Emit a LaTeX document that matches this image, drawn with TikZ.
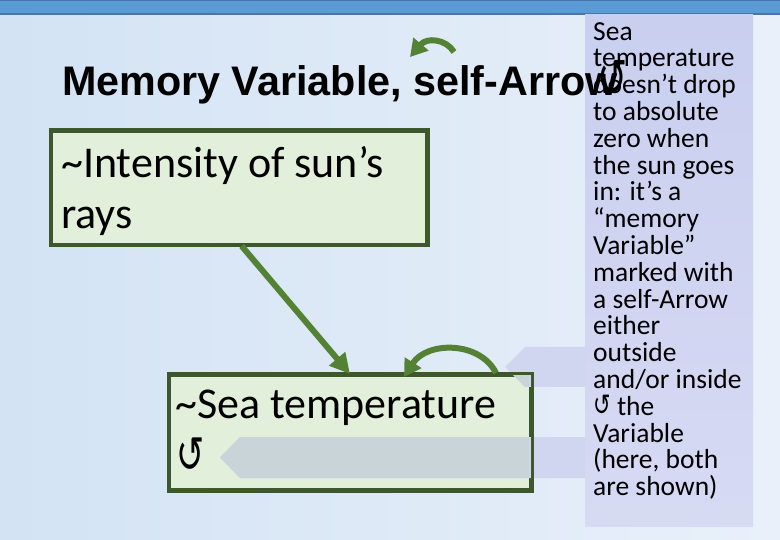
\documentclass[tikz,border=0pt]{standalone}
\usepackage{fontspec}
\setmainfont{Carlito}
\newfontfamily\titlefont{Liberation Sans}
\newfontfamily\symfont{DejaVu Sans}
\usetikzlibrary{arrows.meta,calc}
\newcommand\mytightlines{\lineskiplimit-40pt\relax}
\newcommand\myboxfont{\fontsize{44}{51}\selectfont\mytightlines}
\newcommand\mypanelfont{\fontsize{27.5}{26.8}\selectfont\mytightlines}
\definecolor{bgL}{RGB}{211,227,244}
\definecolor{bgR}{RGB}{233,240,250}
\definecolor{barblue}{RGB}{91,155,213}
\definecolor{bardark}{RGB}{70,118,170}
\definecolor{boxfill}{RGB}{226,239,218}
\definecolor{boxline}{RGB}{62,88,45}
\definecolor{garrowc}{RGB}{84,130,53}
\definecolor{panelT}{RGB}{201,207,239}
\definecolor{panelB}{RGB}{215,218,243}
\definecolor{lav}{RGB}{208,213,240}
\definecolor{lavgray}{RGB}{200,212,216}
\tikzset{
  vbox/.style={draw=boxline, line width=3pt, fill=boxfill, anchor=north west, inner sep=0pt},
  boxtext/.style={anchor=north west, align=left, inner sep=0pt, font=\myboxfont},
  gline/.style={draw=garrowc, line width=6pt, -{Triangle[length=20pt,width=20pt]}},
  gself/.style={draw=garrowc, line width=6pt, -{Triangle[length=17pt,width=19pt]}},
}
\begin{document}
\begin{tikzpicture}[x=1pt,y=-1pt]
\useasboundingbox (0,0) rectangle (780,540);
% background
\shade[left color=bgL, right color=bgR] (0,0) rectangle (780,540);
% top bar
\fill[barblue] (0,0) rectangle (780,15);
\fill[bardark] (0,0) rectangle (780,1.5);
\fill[bardark] (0,13.5) rectangle (780,15.5);
% side panel
\shade[top color=panelT, bottom color=panelB] (585,15) rectangle (753,526);
% boxes
\node[vbox, minimum width=375pt, minimum height=113pt] (b1) at (50,130) {};
\node[vbox, minimum width=361pt, minimum height=114pt] (b2) at (168,374) {};
% lavender callout arrows
\fill[lav] (505,367) -- (525,347) -- (585,347) -- (585,387) -- (525,387) -- cycle;
\fill[lav] (220,457.5) -- (240,437) -- (585,437) -- (585,478) -- (240,478) -- cycle;
\begin{scope}
  \clip (168,374) rectangle (529,488);
  \fill[lavgray] (505,367) -- (525,347) -- (585,347) -- (585,387) -- (525,387) -- cycle;
  \fill[lavgray] (220,457.5) -- (240,437) -- (585,437) -- (585,478) -- (240,478) -- cycle;
\end{scope}
\draw[boxline, line width=3pt] (b1.north west) rectangle (b1.south east);
\draw[boxline, line width=3pt] (b2.north west) rectangle (b2.south east);
% box texts
\node[boxtext] (t1) at (61,146) {\char"7E Intensity of sun’s\\rays};
\node[boxtext] (t2) at (175,390) {\char"7E Sea temperature};
\node[anchor=base west, inner sep=0pt] (s2) at (176,472) {\symfont\fontsize{51}{51}\selectfont\scalebox{0.66}[1]{↺}};
% main arrow
\draw[gline] ($(b1.south west)!0.507!(b1.south east)$) -- (b2.north);
% self arrows
\coordinate (ta) at (454,52);
\coordinate (tb) at (410,57);
\draw[gself] (ta) .. controls (446,39) and (427,37) .. (tb);
\coordinate (sa) at (496,373);
\coordinate (sb) at (404,377);
\draw[gself] (sa) .. controls (480,341) and (427,341) .. (sb);
% title
\node[anchor=base west, inner sep=0pt] (title) at (62,96) {\titlefont\bfseries\fontsize{41.3}{41.3}\selectfont Memory Variable, self-Arrow};
\node[anchor=base west, inner sep=0pt] (tsym) at (597,97) {\symfont\fontsize{53}{53}\selectfont\scalebox{0.68}[1]{↺}};
% panel text
\node[anchor=north west, align=left, inner sep=0pt, font=\mypanelfont] (pt) at (593,22) {Sea\\temperature\\doesn’t drop\\to absolute\\zero when\\the sun goes\\in: it’s a\\“memory\\Variable”\\marked with\\a self-Arrow\\either\\outside\\and/or inside\\{\symfont\fontsize{30}{30}\selectfont\scalebox{0.7}[1]{↺}} the\\Variable\\(here, both\\are shown)};
\end{tikzpicture}
\end{document}
